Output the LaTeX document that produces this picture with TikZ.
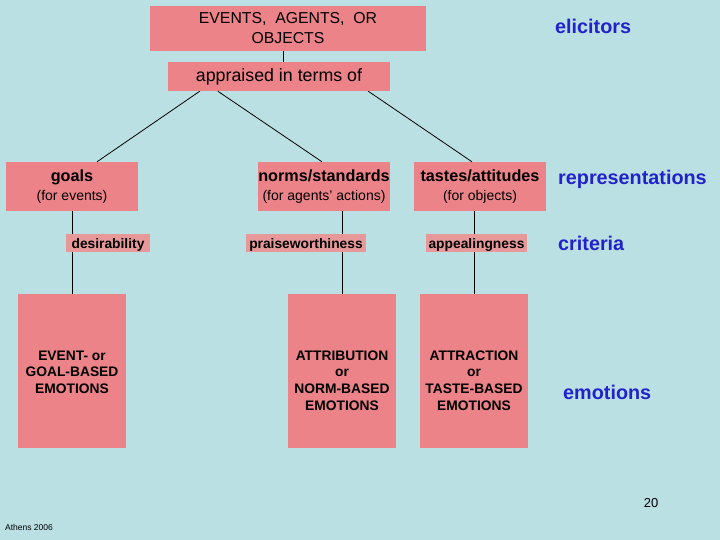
\documentclass[tikz,border=0pt]{standalone}
\usepackage{fontspec}
\setmainfont{Liberation Sans}
\usetikzlibrary{positioning,calc}
\definecolor{SlideBg}{RGB}{187,224,227}
\definecolor{BoxPink}{RGB}{236,131,137}
\definecolor{SoftPink}{RGB}{231,153,153}
\definecolor{TagBlue}{RGB}{34,34,204}
\tikzset{
  pinkbox/.style={
    fill=BoxPink,
    inner sep=0pt,
    align=center
  },
  repbox/.style={
    fill=BoxPink,
    inner sep=0pt,
    minimum width=132pt,
    minimum height=49pt,
    align=center,
    font=\fontsize{14}{18}\selectfont
  },
  critbox/.style={
    fill=SoftPink,
    inner sep=0pt,
    minimum height=18pt,
    text height=12pt,
    text depth=2pt,
    font=\fontsize{13.8}{14}\selectfont\bfseries
  },
  emobox/.style={
    fill=BoxPink,
    inner sep=0pt,
    minimum width=108pt,
    minimum height=154pt
  },
  emotext/.style={
    anchor=north,
    inner sep=0pt,
    align=center,
    font=\fontsize{13.8}{16.6}\selectfont\bfseries
  },
  tag/.style={
    anchor=west,
    inner sep=0pt,
    text=TagBlue,
    font=\fontsize{19.8}{22}\selectfont\bfseries
  },
  link/.style={draw=black,line width=0.8pt}
}

\begin{document}
\begin{tikzpicture}[x=1pt,y=-1pt]
    \fill[SlideBg] (0,0) rectangle (720,540);
    \useasboundingbox (0,0) rectangle (720,540);

    % elicitors
    \node[pinkbox,minimum width=276pt,minimum height=45pt,font=\fontsize{15.8}{20}\selectfont] (src) at (288,28.5) {EVENTS,\ \ AGENTS,\ \ OR\\OBJECTS};
    \node[tag] (elic) at (555,26) {elicitors};
    \node[pinkbox,minimum width=222pt,minimum height=29pt,font=\fontsize{17.8}{18}\selectfont] (appr) at (279,76.5) {appraised in terms of};

    % representations
    \node[repbox] (goals) at (72,186.5) {{\fontsize{16.2}{18}\selectfont\bfseries goals}\\[1pt](for events)};
    \node[repbox] (norms) at (324,186.5) {{\fontsize{16.2}{18}\selectfont\bfseries norms/standards}\\[1pt](for agents' actions)};
    \node[repbox] (tastes) at (480,186.5) {{\fontsize{16.2}{18}\selectfont\bfseries tastes/attitudes}\\[1pt](for objects)};
    \node[tag] (repr) at (558,179) {representations};

    % emotions
    \node[emobox] (evemo) at (72,371) {};
    \node[emobox] (attremo) at (342,371) {};
    \node[emobox] (tasteemo) at (474,371) {};
    \node[emotext] (evtxt) at (72,350.5) {EVENT- or\\GOAL-BASED\\EMOTIONS};
    \node[emotext] (attrtxt) at (342,350.5) {ATTRIBUTION\\or\\NORM-BASED\\EMOTIONS};
    \node[emotext] (tastetxt) at (474,350.5) {ATTRACTION\\or\\TASTE-BASED\\EMOTIONS};
    \node[tag] (emot) at (563,392) {emotions};

    \draw[link] ([xshift=-5pt]src.south) -- ([xshift=4pt]appr.north);
    \draw[link] ([xshift=32pt]appr.south west) -- ([xshift=25pt]goals.north);
    \draw[link] ([xshift=50pt]appr.south west) -- ([xshift=-2pt]norms.north);
    \draw[link] ([xshift=-22pt]appr.south east) -- ([xshift=-8pt]tastes.north);
    \draw[link] (goals.south) -- (evemo.north);
    \draw[link] (norms.south -| attremo.north) -- (attremo.north);
    \draw[link] (tastes.south -| tasteemo.north) -- (tasteemo.north);

    % criteria
    \node[critbox,minimum width=84pt] (desir) at (108,243) {desirability};
    \node[critbox,minimum width=120pt] (praise) at (306,243) {praiseworthiness};
    \node[critbox,minimum width=101pt] (appeal) at (476.5,243) {appealingness};
    \node[tag] (crit) at (558,243) {criteria};

    \node[font=\fontsize{13}{15}\selectfont] (pagenum) at (651,503) {20};
    \node[font=\fontsize{8.5}{9}\selectfont] (venue) at (29,527) {Athens 2006};
  \end{tikzpicture}
\end{document}
